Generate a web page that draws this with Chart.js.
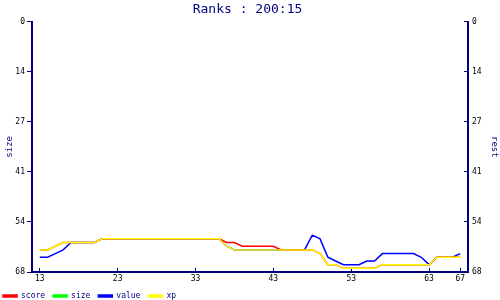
<!DOCTYPE html>
<html>
<head>
<meta charset="utf-8">
<script src="https://cdn.jsdelivr.net/npm/chart.js@4"></script>
<style>
  html, body { margin: 0; padding: 0; background: #fff; }
  #wrap { width: 500px; height: 300px; }
</style>
</head>
<body>
<div id="wrap"><canvas id="myChart" width="500" height="300"></canvas></div>
<script>
var xValues = [13, 14, 15, 16, 17, 18, 19, 20, 21, 22, 23, 24, 25, 26, 27, 28, 29, 30, 31, 32,
  33, 34, 35, 36, 37, 38, 39, 40, 41, 42, 43, 44, 45, 46, 47, 48, 49, 50, 51, 52,
  53, 54, 55, 56, 57, 58, 59, 60, 61, 62, 63, 64, 65, 66, 67];

var score = [62, 62, 61, 60, 60, 60, 60, 60, 59, 59, 59, 59, 59, 59, 59, 59, 59, 59, 59, 59,
  59, 59, 59, 59, 60, 60, 61, 61, 61, 61, 61, 62, 62, 62, 62, 62, 63, 66, 66, 67,
  67, 67, 67, 67, 66, 66, 66, 66, 66, 66, 66, 64, 64, 64, 64];
var size = [];
var value = [64, 64, 63, 62, 60, 60, 60, 60, 59, 59, 59, 59, 59, 59, 59, 59, 59, 59, 59, 59,
  59, 59, 59, 59, 61, 62, 62, 62, 62, 62, 62, 62, 62, 62, 62, 58, 59, 64, 65, 66,
  66, 66, 65, 65, 63, 63, 63, 63, 63, 64, 66, 64, 64, 64, 63];
var xp = [62, 62, 61, 60, 60, 60, 60, 60, 59, 59, 59, 59, 59, 59, 59, 59, 59, 59, 59, 59,
  59, 59, 59, 59, 61, 62, 62, 62, 62, 62, 62, 62, 62, 62, 62, 62, 63, 66, 66, 67,
  67, 67, 67, 67, 66, 66, 66, 66, 66, 66, 66, 64, 64, 64, 64];

var xTicks = [13, 23, 33, 43, 53, 63, 67];
var yTickLabels = ["0", "14", "27", "41", "54", "68"];
var yMax = 68;

var navy = "#000080";
var mono = "'DejaVu Sans Mono', monospace";

function pts(arr) {
  return arr.map(function (v, i) { return {x: xValues[i], y: v}; });
}

function setYTicks(scale) {
  scale.ticks = yTickLabels.map(function (l, i) {
    return {value: yMax * i / (yTickLabels.length - 1)};
  });
}

function yLabel(val, i) {
  return yTickLabels[i];
}

new Chart("myChart", {
  type: "line",
  data: {
    datasets: [
      {label: "score", data: pts(score), borderColor: "#ff0000", backgroundColor: "#ff0000", order: 1},
      {label: "size", data: pts(size), borderColor: "#00ff00", backgroundColor: "#00ff00", order: 1},
      {label: "value", data: pts(value), borderColor: "#0000ff", backgroundColor: "#0000ff", order: 1},
      {label: "xp", data: pts(xp), borderColor: "#ffff00", backgroundColor: "#ffff00", order: 0}
    ]
  },
  options: {
    responsive: false,
    animation: false,
    devicePixelRatio: 1,
    layout: {padding: {left: -5, right: 0, top: 0, bottom: -10}},
    elements: {
      line: {borderWidth: 1.5, tension: 0},
      point: {radius: 0}
    },
    plugins: {
      tooltip: {enabled: false},
      title: {
        display: true,
        text: "Ranks : 200:15",
        color: navy,
        font: {family: mono, size: 13, weight: "normal"},
        padding: {top: 2, bottom: 4}
      },
      legend: {
        display: true,
        position: "bottom",
        align: "start",
        labels: {
          boxWidth: 14,
          boxHeight: 2,
          padding: 8,
          color: navy,
          font: {family: mono, size: 8},
          sort: function (a, b) { return a.datasetIndex - b.datasetIndex; }
        }
      }
    },
    scales: {
      x: {
        type: "linear",
        min: 12,
        max: 68,
        afterBuildTicks: function (scale) {
          scale.ticks = xTicks.map(function (v) { return {value: v}; });
        },
        afterFit: function (scale) { scale.height = 12; },
        ticks: {color: "#000", font: {family: mono, size: 8}, padding: 6, maxRotation: 0, autoSkip: false},
        grid: {display: true, drawOnChartArea: false, color: navy, tickLength: -4},
        border: {color: navy, width: 2}
      },
      y: {
        position: "left",
        reverse: true,
        min: 0,
        max: yMax,
        afterBuildTicks: setYTicks,
        afterFit: function (scale) { scale.width = 37; },
        ticks: {color: "#000", font: {family: mono, size: 8}, padding: 2, autoSkip: false, callback: yLabel},
        grid: {display: true, drawOnChartArea: false, color: navy, tickLength: 5},
        border: {color: navy, width: 2},
        title: {display: true, text: "size", color: navy, font: {family: mono, size: 9}, padding: {top: 9, bottom: 0}}
      },
      y2: {
        position: "right",
        reverse: true,
        min: 0,
        max: yMax,
        afterBuildTicks: setYTicks,
        afterFit: function (scale) { scale.width = 32; },
        ticks: {color: "#000", font: {family: mono, size: 8}, padding: 8, autoSkip: false, callback: yLabel},
        grid: {display: true, drawOnChartArea: false, color: navy, tickLength: -4},
        border: {color: navy, width: 2},
        title: {display: true, text: "rest", color: navy, font: {family: mono, size: 9}, padding: {top: 0, bottom: 2}}
      }
    }
  }
});
</script>
</body>
</html>
